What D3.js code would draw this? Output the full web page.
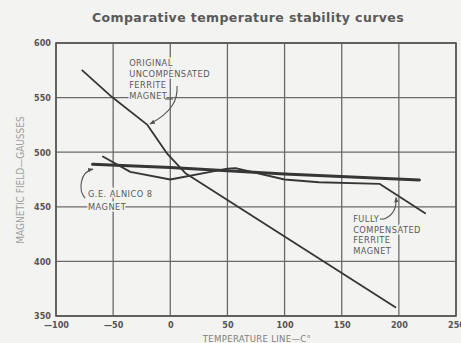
<!DOCTYPE html>
<html><head><meta charset="utf-8">
<script src="https://cdn.jsdelivr.net/npm/d3@7"></script>
<style>
html,body{margin:0;padding:0;background:#f3f3f1;overflow:hidden}
svg{display:block}
</style></head>
<body>
<svg id="c" width="461" height="343"></svg>
<script>
// ---- data ----
const title = "Comparative temperature stability curves";
const xTicks = [-100, -50, 0, 50, 100, 150, 200, 250];
const yTicks = [350, 400, 450, 500, 550, 600];
const xLabel = "TEMPERATURE LINE—C°";
const yLabel = "MAGNETIC FIELD—GAUSSES";
// original uncompensated ferrite magnet: [temp C, gauss]
const uncompT = [-77, -51, -20, -3, 13, 113, 197];
const uncompV = [575, 550.5, 525, 499, 481, 414, 358];
// G.E. Alnico 8 magnet
const alnicoT = [-68, 0, 100, 218];
const alnicoV = [489, 486, 480, 474.5];
// fully compensated ferrite magnet
const compT = [-59, -35, 0, 50, 57, 100, 130, 183, 223];
const compV = [496, 482, 475, 485, 485.5, 475, 472.5, 471, 444];
// annotation labels
const lblUncomp = ["ORIGINAL", "UNCOMPENSATED", "FERRITE", "MAGNET"];
const lblAlnico = ["G.E. ALNICO 8", "MAGNET"];
const lblComp = ["FULLY", "COMPENSATED", "FERRITE", "MAGNET"];

const svg = d3.select("#c");
const W = 461, H = 343;
const bg = "#f3f3f1";
const x = d3.scaleLinear().domain([-100, 250]).range([56, 456]);
const y = d3.scaleLinear().domain([350, 600]).range([316, 43]);

svg.append("rect").attr("width", W).attr("height", H).attr("fill", bg);

// title
svg.append("text").attr("x", 248).attr("y", 22).attr("text-anchor", "middle")
  .attr("font-family", "DejaVu Sans").attr("font-weight", "bold").attr("font-size", 12.5)
  .attr("letter-spacing", 0.4).attr("fill", "#5a5a5a").text(title);

// grid
const g = svg.append("g");
g.selectAll("line.vx").data(xTicks).join("line")
  .attr("x1", d => x(d)).attr("x2", d => x(d)).attr("y1", y(600)).attr("y2", y(350))
  .attr("stroke", "#6a6a6a").attr("stroke-width", 1.3);
g.selectAll("line.hy").data(yTicks).join("line")
  .attr("y1", d => y(d)).attr("y2", d => y(d)).attr("x1", x(-100)).attr("x2", x(250))
  .attr("stroke", "#6a6a6a").attr("stroke-width", 1.3);
g.append("rect").attr("x", x(-100)).attr("y", y(600))
  .attr("width", x(250) - x(-100)).attr("height", y(350) - y(600))
  .attr("fill", "none").attr("stroke", "#555").attr("stroke-width", 1.6);

// axes labels
const fmt = d => d < 0 ? "—" + (-d) : String(d);
const xa = svg.append("g").attr("transform", `translate(0,${y(350)})`)
  .call(d3.axisBottom(x).tickValues(xTicks).tickSize(0).tickPadding(6).tickFormat(fmt));
xa.select(".domain").remove();
const ya = svg.append("g").attr("transform", `translate(${x(-100)},0)`)
  .call(d3.axisLeft(y).tickValues(yTicks).tickSize(0).tickPadding(5).tickFormat(fmt));
ya.select(".domain").remove();
svg.selectAll(".tick text").attr("font-family", "DejaVu Sans Condensed")
  .attr("font-size", 9).attr("font-weight", "bold").attr("fill", "#555");

svg.append("text").attr("x", 257).attr("y", 342).attr("text-anchor", "middle")
  .attr("font-family", "DejaVu Sans Condensed").attr("font-size", 9.5)
  .attr("letter-spacing", 0.3).attr("fill", "#808080").text(xLabel);
svg.append("text").attr("transform", "translate(24,180) rotate(-90)").attr("text-anchor", "middle")
  .attr("font-family", "DejaVu Sans Condensed").attr("font-size", 10)
  .attr("fill", "#a0a0a0").text(yLabel);

// data lines
const line = d3.line().x(d => x(d[0])).y(d => y(d[1]));
const series = [
  {t: alnicoT, v: alnicoV, w: 3},
  {t: compT, v: compV, w: 1.8},
  {t: uncompT, v: uncompV, w: 1.8}
];
series.forEach(s => {
  svg.append("path").datum(s.t.map((t, i) => [t, s.v[i]]))
    .attr("d", line).attr("fill", "none").attr("stroke", "#363636")
    .attr("stroke-width", s.w).attr("stroke-linejoin", "round").attr("stroke-linecap", "round");
});

// annotations
const defs = svg.append("defs");
defs.append("marker").attr("id", "ah").attr("viewBox", "0 0 10 10").attr("refX", 9).attr("refY", 5)
  .attr("markerWidth", 5).attr("markerHeight", 5).attr("orient", "auto-start-reverse")
  .append("path").attr("d", "M0,1 L10,5 L0,9 Z").attr("fill", "#555");

function block(lines, t, v, dy) {
  const tx = svg.append("text").attr("font-family", "DejaVu Sans Condensed").attr("font-size", 9.2)
    .attr("fill", "#5a5a5a").attr("stroke", bg).attr("stroke-width", 3)
    .attr("paint-order", "stroke").attr("letter-spacing", 0.45);
  lines.forEach((l, i) => tx.append("tspan").attr("x", x(t)).attr("y", y(v) + i * dy).text(l));
}
block(lblUncomp, -36, 578.5, 11);
block(lblAlnico, -72, 459, 13);
block(lblComp, 160, 436, 10.7);

function arrow(pts) {
  const p = pts.map(d => [x(d[0]), y(d[1])]);
  const path = d3.path();
  path.moveTo(p[0][0], p[0][1]);
  path.bezierCurveTo(p[1][0], p[1][1], p[2][0], p[2][1], p[3][0], p[3][1]);
  svg.append("path").attr("d", path.toString()).attr("fill", "none").attr("stroke", "#555")
    .attr("stroke-width", 1.1).attr("marker-end", "url(#ah)");
}
function dash(a, b) {
  svg.append("line").attr("x1", x(a[0])).attr("y1", y(a[1])).attr("x2", x(b[0])).attr("y2", y(b[1]))
    .attr("stroke", "#555").attr("stroke-width", 1.1);
}
// uncompensated arrow
arrow([[5.9, 560.6], [6.7, 547.8], [1.5, 536.8], [-17.8, 525.8]]);
dash([-4.6, 548.7], [2.4, 548.7]);
// alnico arrow: "(" shape
arrow([[-74.6, 458], [-80.8, 465.4], [-79, 482], [-67.6, 484.5]]);
// compensated arrow
dash([183.5, 438.8], [187, 438.8]);
arrow([[187, 438.8], [194, 441.6], [198.3, 447], [197.5, 458.5]]);
</script>
</body></html>
